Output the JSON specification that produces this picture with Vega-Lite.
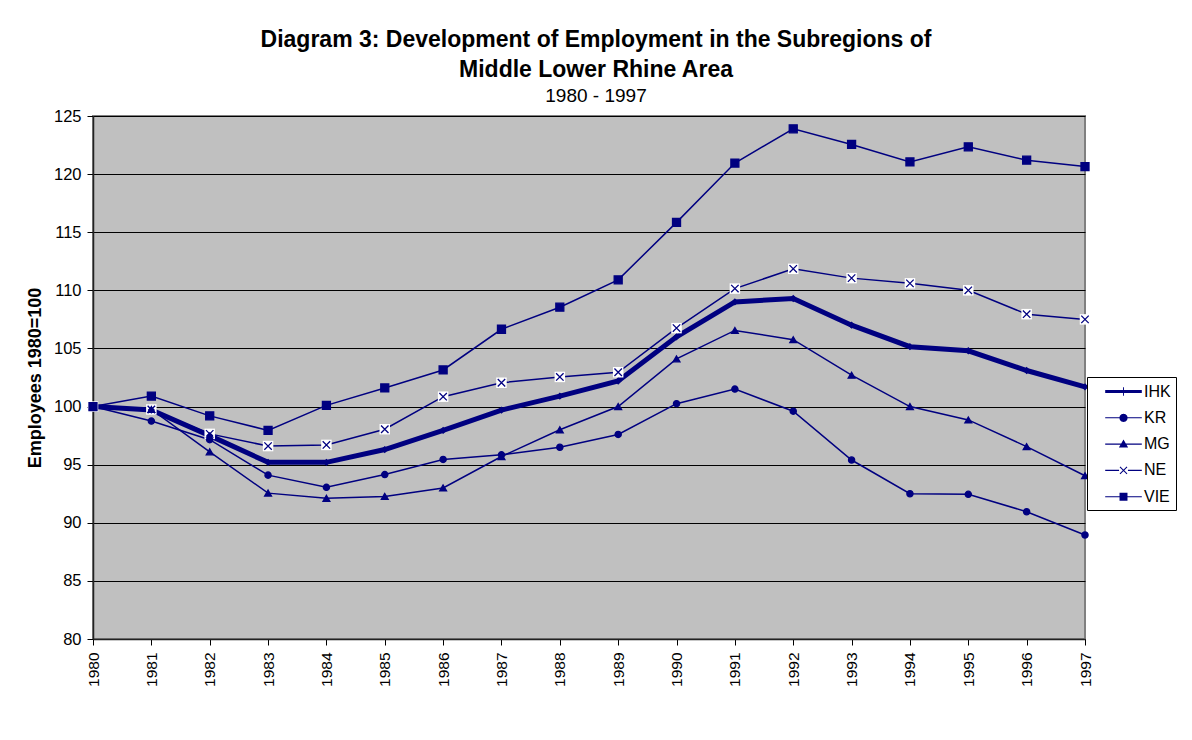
{
  "$schema": "https://vega.github.io/schema/vega-lite/v6.json",
  "width": 992,
  "height": 523,
  "autosize": "none",
  "padding": {"left": 93, "top": 116, "right": 107, "bottom": 101},
  "background": "white",
  "config": {
    "font": "Liberation Sans",
    "view": {"fill": "#C0C0C0", "stroke": "#808080", "strokeWidth": 2}
  },
  "title": {
    "text": ["Diagram 3: Development of Employment in the Subregions of", "Middle Lower Rhine Area"],
    "subtitle": "1980 - 1997",
    "anchor": "middle",
    "frame": "group",
    "dx": 7,
    "font": "Liberation Sans",
    "fontSize": 23,
    "fontWeight": "bold",
    "color": "black",
    "lineHeight": 30,
    "subtitleFont": "Liberation Sans",
    "subtitleFontSize": 19,
    "subtitleColor": "black",
    "subtitlePadding": 5,
    "offset": 2
  },
  "data": {
    "values": [
      {"series": "IHK", "year": 1980, "value": 100},
      {"series": "IHK", "year": 1981, "value": 99.7},
      {"series": "IHK", "year": 1982, "value": 97.5},
      {"series": "IHK", "year": 1983, "value": 95.2},
      {"series": "IHK", "year": 1984, "value": 95.2},
      {"series": "IHK", "year": 1985, "value": 96.3},
      {"series": "IHK", "year": 1986, "value": 97.95},
      {"series": "IHK", "year": 1987, "value": 99.7},
      {"series": "IHK", "year": 1988, "value": 100.9},
      {"series": "IHK", "year": 1989, "value": 102.2},
      {"series": "IHK", "year": 1990, "value": 106.0},
      {"series": "IHK", "year": 1991, "value": 109.0},
      {"series": "IHK", "year": 1992, "value": 109.3},
      {"series": "IHK", "year": 1993, "value": 107.0},
      {"series": "IHK", "year": 1994, "value": 105.15},
      {"series": "IHK", "year": 1995, "value": 104.8},
      {"series": "IHK", "year": 1996, "value": 103.1},
      {"series": "IHK", "year": 1997, "value": 101.7},
      {"series": "KR", "year": 1980, "value": 100},
      {"series": "KR", "year": 1981, "value": 98.75},
      {"series": "KR", "year": 1982, "value": 97.15},
      {"series": "KR", "year": 1983, "value": 94.1},
      {"series": "KR", "year": 1984, "value": 93.05},
      {"series": "KR", "year": 1985, "value": 94.15},
      {"series": "KR", "year": 1986, "value": 95.45},
      {"series": "KR", "year": 1987, "value": 95.85},
      {"series": "KR", "year": 1988, "value": 96.5},
      {"series": "KR", "year": 1989, "value": 97.6},
      {"series": "KR", "year": 1990, "value": 100.25},
      {"series": "KR", "year": 1991, "value": 101.5},
      {"series": "KR", "year": 1992, "value": 99.6},
      {"series": "KR", "year": 1993, "value": 95.4},
      {"series": "KR", "year": 1994, "value": 92.5},
      {"series": "KR", "year": 1995, "value": 92.45},
      {"series": "KR", "year": 1996, "value": 90.95},
      {"series": "KR", "year": 1997, "value": 88.95},
      {"series": "MG", "year": 1980, "value": 100},
      {"series": "MG", "year": 1981, "value": 99.75},
      {"series": "MG", "year": 1982, "value": 96.1},
      {"series": "MG", "year": 1983, "value": 92.55},
      {"series": "MG", "year": 1984, "value": 92.1},
      {"series": "MG", "year": 1985, "value": 92.27},
      {"series": "MG", "year": 1986, "value": 93.0},
      {"series": "MG", "year": 1987, "value": 95.7},
      {"series": "MG", "year": 1988, "value": 98.0},
      {"series": "MG", "year": 1989, "value": 100.0},
      {"series": "MG", "year": 1990, "value": 104.1},
      {"series": "MG", "year": 1991, "value": 106.55},
      {"series": "MG", "year": 1992, "value": 105.75},
      {"series": "MG", "year": 1993, "value": 102.7},
      {"series": "MG", "year": 1994, "value": 100.0},
      {"series": "MG", "year": 1995, "value": 98.85},
      {"series": "MG", "year": 1996, "value": 96.55},
      {"series": "MG", "year": 1997, "value": 94.05},
      {"series": "NE", "year": 1980, "value": 100},
      {"series": "NE", "year": 1981, "value": 99.75},
      {"series": "NE", "year": 1982, "value": 97.65},
      {"series": "NE", "year": 1983, "value": 96.6},
      {"series": "NE", "year": 1984, "value": 96.7},
      {"series": "NE", "year": 1985, "value": 98.05},
      {"series": "NE", "year": 1986, "value": 100.85},
      {"series": "NE", "year": 1987, "value": 102.05},
      {"series": "NE", "year": 1988, "value": 102.55},
      {"series": "NE", "year": 1989, "value": 102.95},
      {"series": "NE", "year": 1990, "value": 106.75},
      {"series": "NE", "year": 1991, "value": 110.15},
      {"series": "NE", "year": 1992, "value": 111.85},
      {"series": "NE", "year": 1993, "value": 111.05},
      {"series": "NE", "year": 1994, "value": 110.6},
      {"series": "NE", "year": 1995, "value": 110.0},
      {"series": "NE", "year": 1996, "value": 107.95},
      {"series": "NE", "year": 1997, "value": 107.5},
      {"series": "VIE", "year": 1980, "value": 100},
      {"series": "VIE", "year": 1981, "value": 100.9},
      {"series": "VIE", "year": 1982, "value": 99.2},
      {"series": "VIE", "year": 1983, "value": 97.95},
      {"series": "VIE", "year": 1984, "value": 100.1},
      {"series": "VIE", "year": 1985, "value": 101.6},
      {"series": "VIE", "year": 1986, "value": 103.15},
      {"series": "VIE", "year": 1987, "value": 106.65},
      {"series": "VIE", "year": 1988, "value": 108.55},
      {"series": "VIE", "year": 1989, "value": 110.9},
      {"series": "VIE", "year": 1990, "value": 115.85},
      {"series": "VIE", "year": 1991, "value": 120.95},
      {"series": "VIE", "year": 1992, "value": 123.9},
      {"series": "VIE", "year": 1993, "value": 122.55},
      {"series": "VIE", "year": 1994, "value": 121.05},
      {"series": "VIE", "year": 1995, "value": 122.35},
      {"series": "VIE", "year": 1996, "value": 121.2},
      {"series": "VIE", "year": 1997, "value": 120.65}
    ]
  },
  "encoding": {
    "x": {
      "field": "year",
      "type": "ordinal",
      "scale": {"type": "point", "padding": 0},
      "axis": {
        "title": null,
        "labelAngle": -90,
        "labelFont": "Liberation Sans",
        "labelFontSize": 15.5,
        "labelColor": "black",
        "labelPadding": 7,
        "tickSize": 6,
        "tickColor": "black",
        "domainColor": "#222222",
        "domainWidth": 1.5,
        "grid": false
      }
    },
    "y": {
      "field": "value",
      "type": "quantitative",
      "scale": {"domain": [80, 125], "nice": false, "zero": false},
      "axis": {
        "values": [80, 85, 90, 95, 100, 105, 110, 115, 120, 125],
        "title": "Employees 1980=100",
        "titleFont": "Liberation Sans",
        "titleFontSize": 18,
        "titleFontWeight": "bold",
        "titleColor": "black",
        "titlePadding": 9,
        "labelFont": "Liberation Sans",
        "labelFontSize": 16.5,
        "labelColor": "black",
        "labelPadding": 6,
        "tickSize": 6,
        "tickColor": "black",
        "domainColor": "#222222",
        "domainWidth": 1.5,
        "grid": true,
        "gridColor": "black",
        "gridWidth": 1,
        "gridOpacity": 1
      }
    }
  },
  "layer": [
    {
      "mark": {"type": "line", "color": "#000080"},
      "encoding": {
        "detail": {"field": "series", "type": "nominal"},
        "strokeWidth": {
          "condition": {"test": "datum.series === 'IHK'", "value": 5},
          "value": 1.5
        }
      }
    },
    {
      "transform": [{"filter": "datum.series === 'NE'"}],
      "mark": {"type": "point", "shape": "square", "filled": true, "color": "white", "size": 110, "opacity": 1}
    },
    {
      "mark": {"type": "point", "filled": true, "color": "#000080", "stroke": "#000080", "strokeWidth": 1.3, "opacity": 1},
      "encoding": {
        "shape": {
          "field": "series",
          "type": "nominal",
          "scale": {
            "domain": ["IHK", "KR", "MG", "NE", "VIE"],
            "range": ["diamond", "circle", "triangle-up", "M-1,-1L1,1M1,-1L-1,1", "square"]
          },
          "legend": null
        },
        "size": {
          "field": "series",
          "type": "nominal",
          "scale": {"domain": ["IHK", "KR", "MG", "NE", "VIE"], "range": [30, 64, 80, 80, 80]},
          "legend": null
        }
      }
    },
    {
      "transform": [{"filter": "false"}],
      "mark": {"type": "point", "filled": true, "color": "#000080", "opacity": 1},
      "encoding": {
        "shape": {
          "field": "series",
          "type": "nominal",
          "scale": {
            "domain": ["IHK", "KR", "MG", "NE", "VIE"],
            "range": [
              "M0.4,-0.17L4.36,-0.17L4.36,0.17L0.4,0.17ZM2.33,-0.45L2.43,-0.45L2.43,0.45L2.33,0.45Z",
              "M0.4,-0.06L4.36,-0.06L4.36,0.06L0.4,0.06ZM2.83,0L2.77,0.225L2.605,0.39L2.38,0.45L2.155,0.39L1.99,0.225L1.93,0L1.99,-0.225L2.155,-0.39L2.38,-0.45L2.605,-0.39L2.77,-0.225Z",
              "M0.4,-0.06L4.36,-0.06L4.36,0.06L0.4,0.06ZM2.38,-0.5L2.88,0.38L1.88,0.38Z",
              "M0.4,-0.06L1.9,-0.06L1.9,0.06L0.4,0.06ZM2.86,-0.06L4.36,-0.06L4.36,0.06L2.86,0.06ZM1.96,-0.34L2.04,-0.42L2.8,0.34L2.72,0.42ZM2.72,-0.42L2.8,-0.34L2.04,0.42L1.96,0.34Z",
              "M0.4,-0.06L4.36,-0.06L4.36,0.06L0.4,0.06ZM1.95,-0.43L2.81,-0.43L2.81,0.43L1.95,0.43Z"
            ]
          },
          "legend": {
            "title": null,
            "orient": "none",
            "legendX": 994,
            "legendY": 261,
            "padding": 5,
            "strokeColor": "black",
            "fillColor": "white",
            "labelFont": "Liberation Sans",
            "labelFontSize": 16,
            "labelColor": "black",
            "labelOffset": 33,
            "symbolSize": 342,
            "symbolFillColor": "#000080",
            "symbolStrokeColor": "#000080",
            "symbolStrokeWidth": 0,
            "rowPadding": 8.3,
            "encode": {
              "symbols": {
                "update": {
                  "fill": {"value": "#000080"},
                  "opacity": {"value": 1}
                }
              }
            }
          }
        }
      }
    }
  ],
  "resolve": {"scale": {"shape": "independent", "size": "independent"}, "legend": {"shape": "independent"}}
}
